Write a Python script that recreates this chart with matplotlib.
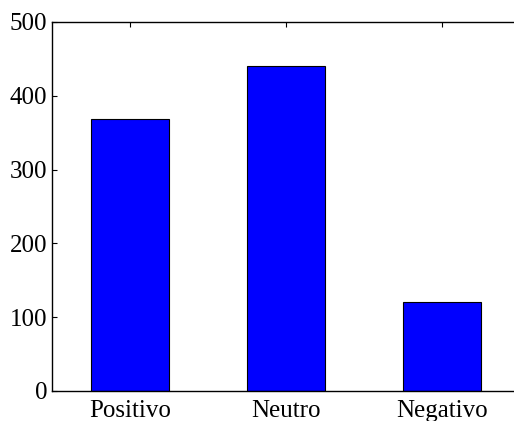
import matplotlib
matplotlib.use('Agg')
import matplotlib.pyplot as plt

plt.rcParams['font.family'] = ['Liberation Serif', 'DejaVu Serif']

categories = ['Positivo', 'Neutro', 'Negativo']
counts = [369, 441, 120]
y_ticks = [0, 100, 200, 300, 400, 500]

fig = plt.figure(figsize=(5.14, 4.21), dpi=100)
# eje recortado a la derecha como en la imagen original
ax = fig.add_axes([0.1006, 0.0713, 0.911, 0.8765])

pos = list(range(1, len(categories) + 1))
ax.bar(pos, counts, width=0.5, color='#0000ff', edgecolor='black', linewidth=0.8)

ax.set_xlim(0.5, 3.5)
ax.set_ylim(0, 500)
ax.set_xticks(pos)
ax.set_xticklabels(categories, fontsize=18)
ax.set_yticks(y_ticks)
ax.set_yticklabels([str(v) for v in y_ticks], fontsize=18)
ax.tick_params(direction='in', top=True, right=False, length=3.5, width=0.8)
ax.tick_params(axis='x', pad=6.5)
ax.tick_params(axis='y', pad=3.3)
ax.set_axisbelow(True)
for s in ax.spines.values():
    s.set_linewidth(1.0)

fig.savefig('out.png', dpi=100, facecolor='white')
plt.close(fig)
